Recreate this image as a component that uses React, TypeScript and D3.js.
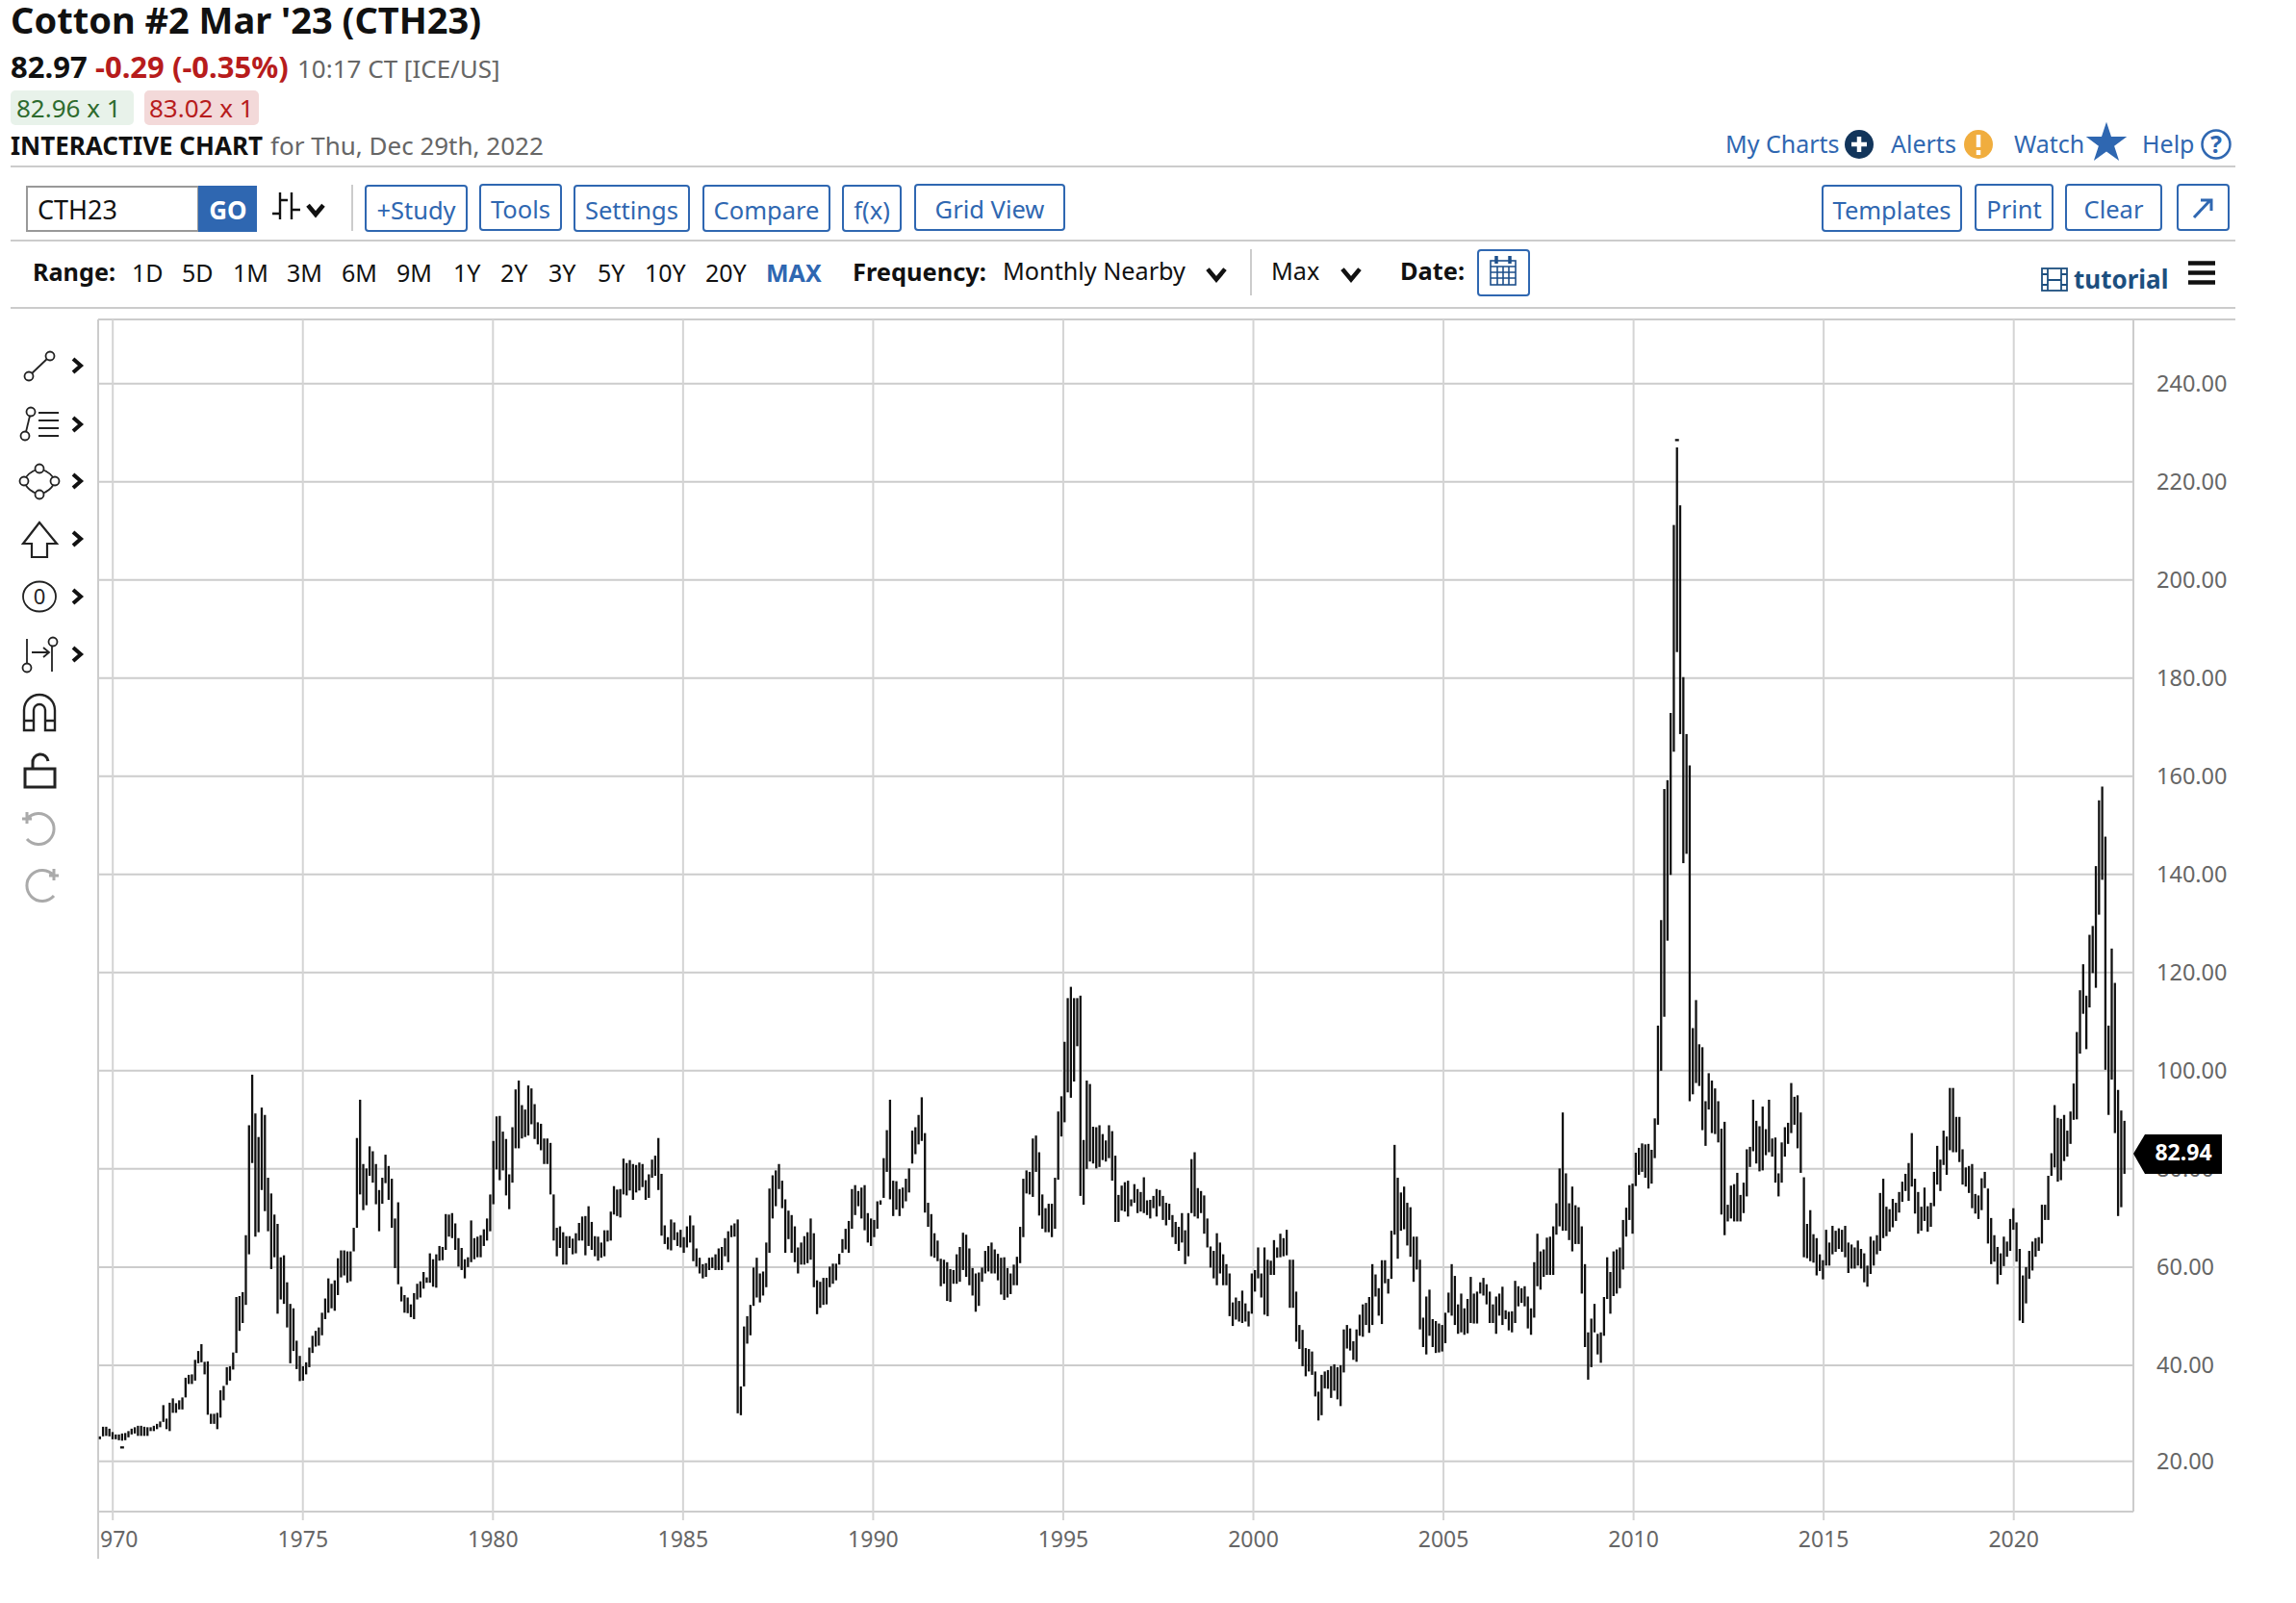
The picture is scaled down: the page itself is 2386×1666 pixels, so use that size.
import * as d3 from 'd3';
import React from 'react';

// monthly [high, low], Sep 1969 onwards
const barsTo1984 = [
  [25.2,24.6],[27.2,25.2],[27.2,25.3],[26.8,25.2],[26.1,24.6],[25.6,24.6],[25.6,24.4],[25.8,24.3],[25.9,24.4],[26.3,25.0],
  [26.8,25.6],[27.1,25.8],[27.4,25.3],[27.4,25.3],[27.2,25.3],[27.1,25.3],[27.1,26.3],[27.4,26.3],[27.8,26.7],[28.3,27.1],
  [31.7,28.2],[28.9,26.7],[32.2,26.3],[33.1,30.1],[32.1,30.1],[32.7,30.8],[33.3,30.8],[37.4,33.3],[38.0,36.1],[38.1,36.1],
  [41.1,36.8],[42.9,40.4],[44.3,40.6],[40.7,38.1],[40.8,29.7],[29.9,27.8],[29.9,27.8],[30.1,26.7],[34.8,29.1],[35.7,32.7],
  [39.6,35.9],[39.8,36.8],[42.6,39.1],[53.9,42.5],[54.1,47.0],[54.9,48.6],[66.5,52.3],[88.9,62.6],[99.2,81.2],[91.3,66.2],
  [86.5,67.1],[92.5,75.7],[91.0,71.4],[78.2,67.3],[75.0,59.6],[70.7,62.0],[68.8,50.5],[62.0,53.4],[62.4,52.5],[56.9,47.7],
  [52.5,40.4],[51.6,42.9],[45.0,39.2],[41.9,36.7],[39.8,36.8],[40.6,38.1],[43.6,39.6],[46.0,42.5],[47.0,43.8],[47.7,44.0],
  [50.7,46.1],[53.6,49.4],[57.7,50.7],[56.6,51.6],[57.3,51.1],[61.8,54.3],[63.4,57.9],[63.4,58.3],[63.2,56.8],[63.2,57.1],
  [68.0,63.2],[86.3,68.0],[94.1,74.8],[81.0,71.6],[80.1,72.6],[84.6,78.6],[83.6,77.2],[81.0,72.8],[75.7,67.3],[78.2,72.9],
  [82.9,77.1],[80.6,73.7],[78.0,68.0],[69.9,59.8],[73.2,56.5],[56.0,53.0],[54.3,50.7],[53.8,50.6],[52.4,49.8],[54.7,49.4],
  [56.6,53.4],[57.1,53.8],[59.0,55.6],[57.9,56.8],[62.8,56.8],[61.6,56.0],[62.6,55.8],[64.3,61.3],[64.1,61.4],[70.8,63.5],
  [70.7,66.2],[71.0,65.9],[68.9,63.5],[65.9,60.1],[63.9,59.4],[61.6,57.7],[62.0,60.0],[69.5,61.0],[65.9,61.6],[66.2,62.0],
  [66.5,62.0],[67.7,64.3],[69.9,65.4],[74.8,67.3],[85.7,72.8],[90.7,79.9],[90.8,77.7],[87.6,79.7],[86.1,74.6],[78.9,71.8],
  [88.5,77.2],[96.2,84.2],[98.0,84.2],[93.0,86.2],[92.1,86.5],[97.0,86.8],[96.4,89.1],[93.2,86.1],[89.5,85.0],[89.2,83.8],
  [86.2,81.0],[86.2,81.0],[85.3,74.8],[74.8,65.4],[68.0,62.2],[68.3,63.9],[67.1,60.5],[66.3,60.5],[66.3,63.9],[65.8,62.6],
  [66.9,62.8],[69.0,65.4],[70.3,65.4],[70.4,62.4],[72.4,64.3],[69.2,63.5],[66.3,62.2],[66.2,61.3],[65.0,61.9],[67.5,62.2],
  [67.5,65.2],[71.3,65.4],[76.5,70.7],[75.8,70.4],[75.9,70.1],[82.1,74.8],[81.2,74.6],[81.8,75.6],[81.0,73.7],[80.8,75.2],
  [81.3,75.6],[81.0,76.3],[77.7,73.7],[78.9,74.1],[81.9,78.2],[82.7,78.6],[86.3,75.7],[79.0,66.4],
];
const barsTo2001 = [
  [68.5,64.7],[66.1,63.6],[69.7,63.4],[69.1,65.5],[67.1,64.3],[67.6,64.0],[66.1,62.9],[68.3,64.0],[70.5,65.0],[68.5,61.2],
  [63.8,60.1],[61.9,58.7],[60.6,57.7],[60.8,58.0],[61.9,59.4],[62.0,59.8],[62.6,59.4],[63.8,59.4],[64.1,59.4],[65.9,62.2],
  [67.3,61.0],[68.5,66.1],[68.9,66.2],[69.7,30.0],[35.6,29.6],[47.9,35.6],[50.0,44.4],[52.3,46.1],[59.9,52.1],[61.9,53.8],
  [58.7,52.8],[59.1,54.2],[65.0,55.9],[76.0,62.9],[78.7,69.9],[79.7,72.4],[81.0,75.9],[77.6,72.0],[73.8,62.9],[71.5,65.7],
  [70.6,62.9],[68.3,61.0],[64.0,58.7],[65.0,60.5],[66.3,60.5],[67.1,60.8],[69.9,61.5],[66.9,55.9],[57.3,50.4],[57.0,51.7],
  [57.8,52.3],[57.8,52.4],[60.1,55.9],[60.7,56.6],[60.7,57.3],[62.7,60.5],[65.7,62.9],[67.8,63.6],[69.4,62.9],[75.9,67.8],
  [76.7,70.6],[75.5,72.4],[76.2,69.9],[76.7,67.5],[71.0,65.0],[69.9,64.3],[69.6,66.1],[73.4,67.8],[73.6,72.7],[82.2,74.1],
  [87.9,79.4],[94.1,73.8],[77.6,70.4],[77.5,71.7],[75.9,70.4],[76.2,72.0],[78.0,73.4],[80.1,75.2],[87.8,81.1],[88.5,83.0],
  [91.0,85.0],[94.6,85.7],[87.3,71.1],[73.1,68.2],[70.8,62.2],[66.9,61.9],[65.4,61.2],[61.7,56.1],[61.5,56.6],[61.0,53.1],
  [59.6,52.9],[59.4,56.6],[62.6,56.6],[64.1,57.0],[67.0,59.4],[66.6,58.0],[63.8,56.3],[59.8,54.2],[58.7,50.9],[58.9,52.1],
  [59.9,57.0],[63.3,58.7],[64.3,59.1],[65.0,58.7],[63.6,58.7],[62.7,57.3],[61.9,54.4],[62.0,53.3],[59.8,53.8],[58.7,54.5],
  [60.5,56.3],[62.1,56.3],[68.2,60.8],[78.0,66.1],[79.7,75.0],[79.4,74.8],[86.2,74.3],[86.8,79.4],[83.4,70.5],[74.8,67.8],
  [72.0,67.1],[72.9,67.1],[72.9,66.1],[78.2,67.8],[91.7,77.8],[94.8,86.6],[105.9,89.5],[114.8,95.6],[117.1,94.5],[114.8,97.8],
  [114.8,105.0],[115.3,74.5],[85.9,72.7],[98.0,80.0],[97.3,81.5],[88.6,81.1],[88.5,80.1],[88.9,80.4],[87.1,81.8],[85.8,81.5],
  [88.9,82.2],[87.7,77.6],[82.7,69.2],[74.7,69.2],[76.6,71.5],[77.3,71.3],[77.6,70.3],[73.8,72.4],[76.9,73.1],[75.9,71.0],
  [75.3,71.3],[78.3,71.0],[73.6,70.6],[73.7,69.9],[74.5,72.0],[75.9,70.3],[75.7,72.4],[74.5,69.6],[73.1,68.5],[72.9,69.6],
  [70.6,66.1],[69.2,64.7],[68.2,63.3],[71.0,65.0],[67.5,60.6],[71.0,62.2],[82.0,71.0],[83.4,70.3],[76.1,69.9],[75.5,71.0],
  [74.6,66.8],[69.9,64.0],[64.2,59.9],[63.3,57.7],[66.9,56.3],[65.0,58.7],[62.6,56.3],[60.6,56.3],[58.7,50.0],[52.8,48.0],
  [53.8,49.3],[53.1,48.9],[55.2,48.6],[52.6,48.9],[51.0,47.9],[58.7,50.5],[59.4,55.0],[64.0,57.7],[58.7,53.8],[64.0,50.3],
  [61.5,50.0],[61.3,58.4],[65.5,58.4],[64.0,61.9],[66.8,62.0],[65.9,62.2],[67.6,62.4],[61.5,51.7],[61.5,51.7],[55.0,44.8],
  [48.2,43.3],[47.2,39.8],[43.5,37.7],[43.3,38.7],[42.8,38.0],[38.7,33.5],[34.5,28.5],[38.0,29.6],[38.7,35.2],
];
const barsTo2010 = [
  [39.0,35.1],[39.8,33.2],[40.2,34.7],[39.6,32.9],[40.0,31.5],[47.3,38.5],[48.2,43.4],[47.5,43.0],[44.9,41.1],[47.3,40.7],
  [50.3,46.0],[52.4,45.8],[52.7,48.2],[53.9,46.6],[60.6,48.2],[58.5,54.0],[55.7,50.1],[61.4,48.4],[61.4,56.7],[57.6,54.6],
  [67.4,57.6],[84.9,66.6],[78.2,61.7],[75.2,67.4],[76.4,67.7],[73.1,64.4],[72.2,62.1],[66.2,57.0],[66.2,59.5],[61.5,47.3],
  [49.7,43.7],[54.0,42.2],[55.4,46.0],[49.4,43.7],[49.0,42.5],[48.5,42.6],[48.2,42.8],[50.7,44.5],[54.8,50.7],[60.6,50.1],
  [58.2,48.2],[52.4,46.4],[54.6,46.7],[51.6,46.2],[53.5,46.5],[58.0,48.6],[54.6,48.5],[55.0,48.5],[56.9,54.6],[57.8,54.2],
  [56.5,52.4],[55.0,48.6],[52.4,48.6],[54.0,46.4],[54.6,50.1],[56.0,48.2],[51.2,49.4],[50.9,47.1],[51.0,46.7],[57.2,48.6],
  [56.1,52.0],[55.7,52.7],[56.1,52.0],[54.0,47.5],[51.6,46.2],[61.0,49.7],[66.8,56.1],[63.2,55.4],[63.6,58.0],[66.0,58.4],
  [66.2,58.4],[68.3,58.4],[73.0,66.6],[80.1,68.3],[91.5,67.4],[79.1,67.4],[73.0,65.5],[76.4,63.2],[72.6,64.7],[72.2,64.7],
  [68.3,54.6],[60.6,43.7],[46.7,37.0],[49.5,39.6],[52.5,46.7],[46.4,42.2],[46.7,40.5],[53.9,46.0],[62.0,53.5],[59.0,50.5],
  [63.2,54.1],[63.6,54.6],[64.0,55.7],[69.6,59.5],[72.1,66.2],[76.7,69.6],[77.0,66.8],[83.3,76.5],[84.3,78.8],[85.2,79.4],
  [85.0,78.2],[85.1,76.0],[83.9,77.0],[90.3,82.2],
];
const barsTo2016 = [
  [109.2,89.0],[130.7,100.0],[157.4,111.0],[159.2,126.5],[172.9,139.9],[211.2,165.0],[227.0,185.3],[215.2,168.6],[180.2,142.3],[168.6,144.2],
  [162.2,93.8],[108.7,95.2],[114.4,97.5],[105.4,96.9],[104.8,87.9],[93.8,84.7],[99.5,92.1],[98.0,87.3],[96.4,87.1],[93.8,85.4],
  [88.2,70.7],[89.6,66.5],[72.7,69.3],[76.6,69.9],[76.9,69.3],[79.2,69.3],[74.7,69.3],[77.2,71.0],[84.0,74.4],[84.5,80.4],
  [94.1,83.6],[89.8,81.1],[88.7,79.5],[92.7,79.7],[88.1,82.8],[94.1,83.4],[86.2,82.5],[86.4,77.2],[79.1,74.4],[85.4,77.2],
  [88.5,82.5],[89.4,85.1],[97.5,87.3],[94.7,89.0],[95.0,84.2],[91.5,79.2],[78.3,62.0],[68.8,61.8],[71.6,61.2],[66.7,60.9],
  [65.9,58.3],[62.6,59.2],[61.4,57.5],[67.6,60.3],[65.0,60.3],[68.4,62.6],[67.4,63.1],[67.9,63.7],[67.6,63.1],[68.4,62.0],
  [65.0,58.8],[64.6,59.7],[64.0,59.7],[65.4,60.3],[63.7,59.7],[62.8,56.9],[60.3,56.0],[66.2,58.6],[65.4,60.3],
];
const barsTo2022 = [
  [66.5,62.6],[75.1,63.3],[78.0,65.9],[72.3,66.3],[71.8,67.2],[73.9,68.1],[73.1,69.4],[75.3,71.1],[77.4,73.3],[79.0,75.5],
  [81.2,73.5],[87.3,76.4],[78.0,70.9],[75.3,66.8],[72.3,67.4],[76.2,69.4],[72.4,67.2],[73.1,68.2],[79.4,72.4],[84.7,76.8],
  [81.9,75.5],[87.8,80.8],[86.6,78.8],[96.5,83.8],[96.5,83.4],[90.6,83.4],[90.6,81.4],[84.0,76.8],[80.3,76.4],[80.6,75.1],
  [81.0,72.0],[74.9,70.9],[74.6,69.8],[78.1,71.6],[79.4,76.1],[76.0,64.8],[70.0,60.6],[66.5,61.1],[64.1,56.5],[62.8,58.4],
  [66.2,60.2],[65.2,62.1],[69.8,63.3],[72.0,67.6],[69.1,61.1],[63.7,49.1],[58.3,48.6],[60.0,52.6],[63.3,57.6],[65.2,59.3],
  [65.9,62.1],[66.1,63.3],[72.7,64.8],[72.7,69.6],[78.6,69.6],[83.2,78.6],[93.0,80.3],[90.4,77.4],[90.2,77.7],[91.0,81.6],
  [87.8,82.5],[91.7,85.1],[97.4,90.0],[107.9,90.1],[116.4,103.5],[121.7,111.6],[115.3,104.4],[127.7,112.9],[129.5,119.9],[141.7,116.9],
  [155.1,131.8],[157.9,138.9],[147.7,100.2],[109.2,91.0],[124.9,98.2],[117.9,87.3],[96.1,70.4],[91.9,72.2],[89.8,79.0],
];
const bars = [...barsTo1984, ...barsTo2001, ...barsTo2010, ...barsTo2016, ...barsTo2022];

// two lone ticks that float off their bars
const strayMarks = [{ bar: 7, value: 22.9 }, { bar: 497, value: 228.5 }];

const priceTicks = [20, 40, 60, 80, 100, 120, 140, 160, 180, 200, 220, 240];
const yearTicks = [1970, 1975, 1980, 1985, 1990, 1995, 2000, 2005, 2010, 2015, 2020];
const lastPrice = 82.94;

const rangeItems: [string, number][] = [['1D', 137], ['5D', 189], ['1M', 242], ['3M', 298], ['6M', 355], ['9M', 412], ['1Y', 471], ['2Y', 520], ['3Y', 570], ['5Y', 621], ['10Y', 670], ['20Y', 733]];
const leftButtons: [string, number, number, number][] = [['+Study', 380, 485, 193], ['Tools', 499, 583, 192], ['Settings', 597, 716, 193], ['Compare', 731, 862, 193], ['f(x)', 876, 936, 193], ['Grid View', 951, 1106, 192]];
const rightButtons: [string, number, number, number][] = [['Templates', 1894, 2038, 193], ['Print', 2053, 2133, 192], ['Clear', 2147, 2246, 192], ['', 2263, 2316, 192]];

const FONT = '"Noto Sans", sans-serif';
const BLUE = '#2f67b1';
const RULE = '#cccccc';

const Chevron = ({ x, y, s = 9 }: { x: number; y: number; s?: number }) => (
  <path d={`M${x - s},${y - s * 0.6}L${x},${y + s * 0.6}L${x + s},${y - s * 0.6}`} fill="none" stroke="#111" strokeWidth={4.6} />
);
const SideChevron = ({ y }: { y: number }) => (
  <path d={`M76,${y - 7}L84,${y}L76,${y + 7}`} fill="none" stroke="#111" strokeWidth={4} />
);
const Dot = ({ x, y, r = 4.5 }: { x: number; y: number; r?: number }) => (
  <circle cx={x} cy={y} r={r} fill="#fff" stroke="#222" strokeWidth={1.8} />
);

export default function App() {
  const yScale = d3.scaleLinear().domain([20, 40, 240]).range([1518.8, 1418.9, 398.7]);
  const yearScale = d3.scaleLinear().domain([1970, 2020]).range([117.2, 2092.7]);
  const barX = d3.scalePoint<number>().domain(d3.range(bars.length)).range([103.8, 2207.7]);
  const star = d3.symbol().type(d3.symbolStar).size(560)();

  return (
    <svg width={2386} height={1666} viewBox="0 0 2386 1666" style={{ position: 'absolute', left: 0, top: 0, display: 'block', background: '#fff' }} fontFamily={FONT}>
      {/* header */}
      <text x={11} y={35} fontSize={38} fontWeight={700} fill="#111">Cotton #2 Mar '23 (CTH23)</text>
      <text x={11} y={81} fontSize={31} fontWeight={700} fill="#111">82.97</text>
      <text x={99} y={81} fontSize={31} fontWeight={700} fill="#b71c1c">-0.29 (-0.35%)</text>
      <text x={309} y={81} fontSize={26} fill="#666">10:17 CT [ICE/US]</text>
      <rect x={11} y={94} width={128} height={36} rx={5} fill="#e8f2ea" />
      <text x={17} y={122} fontSize={26} fill="#2e6b2e">82.96 x 1</text>
      <rect x={150} y={94} width={119} height={36} rx={5} fill="#f3d9d9" />
      <text x={155} y={122} fontSize={26} fill="#b71c1c">83.02 x 1</text>
      <text x={11} y={161} fontSize={26} fontWeight={700} fill="#111">INTERACTIVE CHART</text>
      <text x={281} y={161} fontSize={26} fill="#666">for Thu, Dec 29th, 2022</text>

      {/* top right links */}
      <g fontSize={25} fill={BLUE}>
        <text x={1793} y={159}>My Charts</text>
        <text x={1965} y={159}>Alerts</text>
        <text x={2093} y={159}>Watch</text>
        <text x={2226} y={159}>Help</text>
      </g>
      <circle cx={1932} cy={150} r={15} fill="#12355b" />
      <path d="M1932,142V158M1924,150H1940" stroke="#fff" strokeWidth={4.5} />
      <circle cx={2056} cy={150} r={15} fill="#f0ad3e" />
      <path d="M2056,140V153M2056,156V161" stroke="#fff" strokeWidth={4.5} />
      <path d={star ?? ''} transform="translate(2189,149)" fill={BLUE} />
      <circle cx={2303} cy={150} r={14.5} fill="#fff" stroke={BLUE} strokeWidth={2.5} />
      <text x={2303} y={159} fontSize={25} fontWeight={700} textAnchor="middle" fill={BLUE}>?</text>

      {/* toolbars */}
      {[173, 250, 320, 332].map((y) => (
        <line key={y} x1={y === 332 ? 102 : 11} x2={2323} y1={y} y2={y} stroke={RULE} strokeWidth={2} />
      ))}
      <rect x={28} y={194} width={178} height={46} fill="#fff" stroke="#999" strokeWidth={2} />
      <text x={39} y={228} fontSize={27} fill="#111">CTH23</text>
      <rect x={206} y={193} width={61} height={48} fill={BLUE} />
      <text x={237} y={228} fontSize={26} fontWeight={700} textAnchor="middle" fill="#fff">GO</text>
      <path d="M283,222H291M291,200V228M291,208H299M303,200V228M303,218H312" fill="none" stroke="#111" strokeWidth={2.4} />
      <Chevron x={328} y={218} s={8} />
      <line x1={366} x2={366} y1={192} y2={240} stroke={RULE} strokeWidth={2} />
      {[...leftButtons, ...rightButtons].map(([label, x0, x1, top]) => (
        <g key={x0}>
          <rect x={x0} y={top} width={x1 - x0} height={47} rx={3} fill="#fff" stroke={BLUE} strokeWidth={2} />
          <text x={(x0 + x1) / 2} y={top + 35} fontSize={25.5} textAnchor="middle" fill={BLUE}>{label}</text>
        </g>
      ))}
      <path d="M2280,226L2296,209M2287,208H2298V219" fill="none" stroke={BLUE} strokeWidth={3} />

      {/* range row */}
      <text x={34} y={292} fontSize={25.2} fontWeight={700} fill="#111">Range:</text>
      {rangeItems.map(([label, x]) => (
        <text key={label} x={x} y={293} fontSize={25} fill="#111">{label}</text>
      ))}
      <text x={796} y={293} fontSize={25} fontWeight={700} fill={BLUE}>MAX</text>
      <text x={886} y={292} fontSize={25.4} fontWeight={700} fill="#111">Frequency:</text>
      <text x={1042} y={291} fontSize={25.2} fill="#111">Monthly Nearby</text>
      <Chevron x={1264} y={285} />
      <line x1={1300} x2={1300} y1={259} y2={307} stroke={RULE} strokeWidth={2} />
      <text x={1321} y={291} fontSize={25.2} fill="#111">Max</text>
      <Chevron x={1404} y={285} />
      <text x={1455} y={291} fontSize={25.4} fontWeight={700} fill="#111">Date:</text>
      <rect x={1536} y={260} width={53} height={47} rx={3} fill="#fff" stroke={BLUE} strokeWidth={2} />
      <g fill="none" stroke="#1d4f8b" strokeWidth={1.6}>
        <rect x={1549} y={271} width={26} height={25} />
        <path d="M1549,277H1575M1549,283H1575M1549,289H1575M1556,277V296M1562,277V296M1568,277V296" />
        <path d="M1555,266V274M1569,266V274" strokeWidth={3.5} />
      </g>
      <g fill="none" stroke="#1d4f7f" strokeWidth={1.8}>
        <rect x={2122} y={279} width={26} height={23} />
        <path d="M2128,279V302M2142,279V302M2122,285H2128M2122,296H2128M2142,285H2148M2142,296H2148M2128,291H2142" />
      </g>
      <text x={2155} y={300} fontSize={26} fontWeight={700} fill="#1d4f7f">tutorial</text>
      <path d="M2274,273.5H2302M2274,283.5H2302M2274,293.5H2302" stroke="#111" strokeWidth={4.5} />

      {/* drawing tools */}
      <g fill="none" stroke="#222" strokeWidth={1.8}>
        <line x1={30} y1={391} x2={52} y2={370} />
        <line x1={26} y1={453} x2={32} y2={428} />
        <path d="M40,429H61M40,437H61M40,445H61M40,453H61" />
        <path d="M25,500Q28,491 41,487Q54,491 57,500Q54,510 41,514Q28,510 25,500Z" />
        <path d="M41,543L24,565H33V579H49V565H59Z" strokeWidth={2.2} />
        <ellipse cx={41} cy={620} rx={17} ry={15.5} />
        <path d="M28,664V692M33,678H50M45,673L51,678L45,683M54,670V698" />
        <path d="M25,759V738A16,16 0 0 1 57,738V759H47V738A6,6 0 0 0 35,738V759ZM25,749H35M47,749H57" strokeWidth={2.4} />
        <path d="M26,799H57V818H26ZM34,799V793A8,8 0 0 1 50,791" strokeWidth={3} />
        <path d="M28,851A16,16 0 1 1 28,872M23,851H33M28,844V856" stroke="#aaa" strokeWidth={3} />
        <path d="M56,910A16,16 0 1 0 56,931M61,910H51M56,903V915" stroke="#aaa" strokeWidth={3} />
      </g>
      <text x={41} y={628} fontSize={22} textAnchor="middle" fill="#222">0</text>
      <Dot x={30} y={391} /><Dot x={52} y={370} />
      <Dot x={26} y={453} /><Dot x={32} y={428} />
      <Dot x={25} y={500} /><Dot x={41} y={487} /><Dot x={57} y={500} /><Dot x={41} y={514} />
      <Dot x={28} y={694} /><Dot x={55} y={667} />
      {[380, 441, 500, 560, 620, 680].map((y) => <SideChevron key={y} y={y} />)}

      {/* grid */}
      {priceTicks.map((t) => (
        <line key={t} x1={102} x2={2217} y1={yScale(t)} y2={yScale(t)} stroke={RULE} strokeWidth={2} />
      ))}
      <line x1={102} x2={2217} y1={1571} y2={1571} stroke={RULE} strokeWidth={2} />
      {yearTicks.map((t) => (
        <line key={t} x1={yearScale(t)} x2={yearScale(t)} y1={332} y2={1580} stroke="#d4d4d4" strokeWidth={2} />
      ))}
      <line x1={102} x2={102} y1={332} y2={1620} stroke={RULE} strokeWidth={2} />
      <line x1={2217} x2={2217} y1={332} y2={1571} stroke={RULE} strokeWidth={2} />

      {/* monthly bars */}
      <g stroke="#111" strokeWidth={2.3}>
        {bars.map(([high, low], i) => (
          <line key={i} x1={barX(i)} x2={barX(i)} y1={yScale(high)} y2={yScale(low)} />
        ))}
        {strayMarks.map((m) => (
          <line key={m.bar} x1={(barX(m.bar) ?? 0) - 2} x2={(barX(m.bar) ?? 0) + 2} y1={yScale(m.value)} y2={yScale(m.value)} />
        ))}
      </g>

      {/* axis labels */}
      {priceTicks.map((t) => (
        <text key={t} x={2241} y={yScale(t) + 8} fontSize={23.5} fill="#666">{t.toFixed(2)}</text>
      ))}
      {yearTicks.map((t, i) => (
        i === 0
          ? <text key={t} x={104} y={1608} fontSize={23} fill="#666">{String(t).slice(1)}</text>
          : <text key={t} x={yearScale(t)} y={1608} fontSize={23} textAnchor="middle" fill="#666">{t}</text>
      ))}

      {/* last price flag */}
      <path d="M2217,1199L2229,1179H2309V1220H2229Z" fill="#000" />
      <text x={2269} y={1206} fontSize={23} fontWeight={700} textAnchor="middle" fill="#fff">{lastPrice.toFixed(2)}</text>
    </svg>
  );
}
